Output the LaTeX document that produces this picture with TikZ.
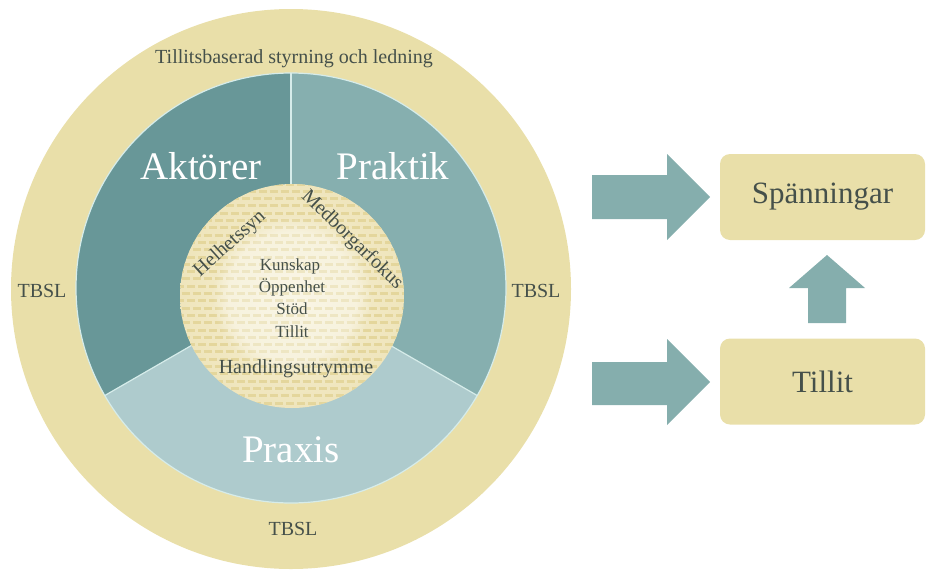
\documentclass[tikz,border=0pt]{standalone}
\usepackage{fontspec}
\setmainfont{Liberation Serif}
\usetikzlibrary{fadings}
\definecolor{outertan}{HTML}{E9DFA9}
\definecolor{aktteal}{HTML}{689798}
\definecolor{prakteal}{HTML}{86AFAF}
\definecolor{praxteal}{HTML}{AECBCD}
\definecolor{ringedge}{HTML}{D6ECEA}
\definecolor{coretan}{HTML}{EFE5BC}
\definecolor{corelight}{HTML}{F6F0D6}
\definecolor{brickcol}{HTML}{E4D69C}
\definecolor{arrowteal}{HTML}{85AEAD}
\definecolor{darktext}{HTML}{45504A}
\tikzset{
  bigword/.style={text=white,font=\fontsize{39}{39}\selectfont,anchor=base},
  tbsl/.style={text=darktext,font=\fontsize{20}{20}\selectfont,anchor=base},
  coreword/.style={text=darktext,font=\fontsize{17}{17}\selectfont,anchor=base},
  valueword/.style={text=darktext,font=\fontsize{20}{20}\selectfont},
  resultbox/.style={fill=outertan,rounded corners=10pt,minimum width=205pt,
    minimum height=86pt,text=darktext,font=\fontsize{31}{31}\selectfont},
  blockarrow/.style={fill=arrowteal},
  divider/.style={draw=ringedge,line width=1.2pt},
  brickrow/.style={draw=brickcol,line width=3pt,dash pattern=on 8pt off 3pt},
}

\begin{document}
\begin{tikzpicture}[x=1pt,y=1pt]
  \useasboundingbox (0,0) rectangle (926,-571);
  \coordinate (mid)  at (291,-288);
  \coordinate (core) at (292,-296);

  % outer ring
  \fill[outertan] (291,-289) circle (280);

  % three sectors
  \fill[aktteal]  (mid) -- ++(90:215)  arc[start angle=90,end angle=210,radius=215] -- cycle;
  \fill[prakteal] (mid) -- ++(-30:215) arc[start angle=-30,end angle=90,radius=215] -- cycle;
  \fill[praxteal] (mid) -- ++(210:215) arc[start angle=210,end angle=330,radius=215] -- cycle;
  \foreach \a in {90,210,330}
    \draw[divider] (mid) -- ++(\a:215);
  \draw[divider] (mid) circle (215);

  % core with bricks
  \begin{scope}
    \clip (core) circle (112);
    \shade[inner color=corelight,outer color=coretan] (core) circle (112);
    \foreach \row in {0,...,31}
      \draw[brickrow] ({176+5.5*mod(\row,2)},{-184-7.3*\row}) -- ++(240,0);
    \fill[white,fill opacity=0.4,path fading=circle with fuzzy edge 20 percent]
      (core) circle (80);
  \end{scope}

  % labels
  \node[tbsl] (title) at (294,-63) {Tillitsbaserad styrning och ledning};
  \node[tbsl] (tbslW) at (42,-297)  {TBSL};
  \node[tbsl] (tbslE) at (536,-297) {TBSL};
  \node[tbsl] (tbslS) at (293,-535) {TBSL};
  \node[bigword] (aktorer) at (201,-179) {Aktörer};
  \node[bigword] (praktik) at (393,-179) {Praktik};
  \node[bigword] (praxis)  at (291,-462) {Praxis};
  \node[valueword,rotate=42]  (helhet)  at (230,-244) {Helhetssyn};
  \node[valueword,rotate=-44] (medborg) at (352,-240) {Medborgarfokus};
  \node[coreword] (kunskap)  at (290,-270) {Kunskap};
  \node[coreword] (oppenhet) at (292,-292) {Öppenhet};
  \node[coreword] (stod)     at (292,-314) {Stöd};
  \node[coreword] (tillitIn) at (292,-337) {Tillit};
  \node[valueword,anchor=base] (handling) at (296,-373) {Handlingsutrymme};

  % results
  \node[resultbox] (span)   at (822.5,-197)   {Spänningar};
  \node[resultbox] (tillit) at (822.5,-381.5) {Tillit};

  % block arrows
  \fill[blockarrow] (592,-175) -- (667,-175) -- (667,-154) -- (710,-197)
    -- (667,-240) -- (667,-219) -- (592,-219) -- cycle;
  \fill[blockarrow] (592,-362) -- (667,-362) -- (667,-339) -- (710,-382)
    -- (667,-425) -- (667,-405) -- (592,-405) -- cycle;
  \fill[blockarrow] (808,-323) -- (808,-288) -- (789,-288) -- (827,-255)
    -- (865,-288) -- (846,-288) -- (846,-323) -- cycle;
\end{tikzpicture}
\end{document}
